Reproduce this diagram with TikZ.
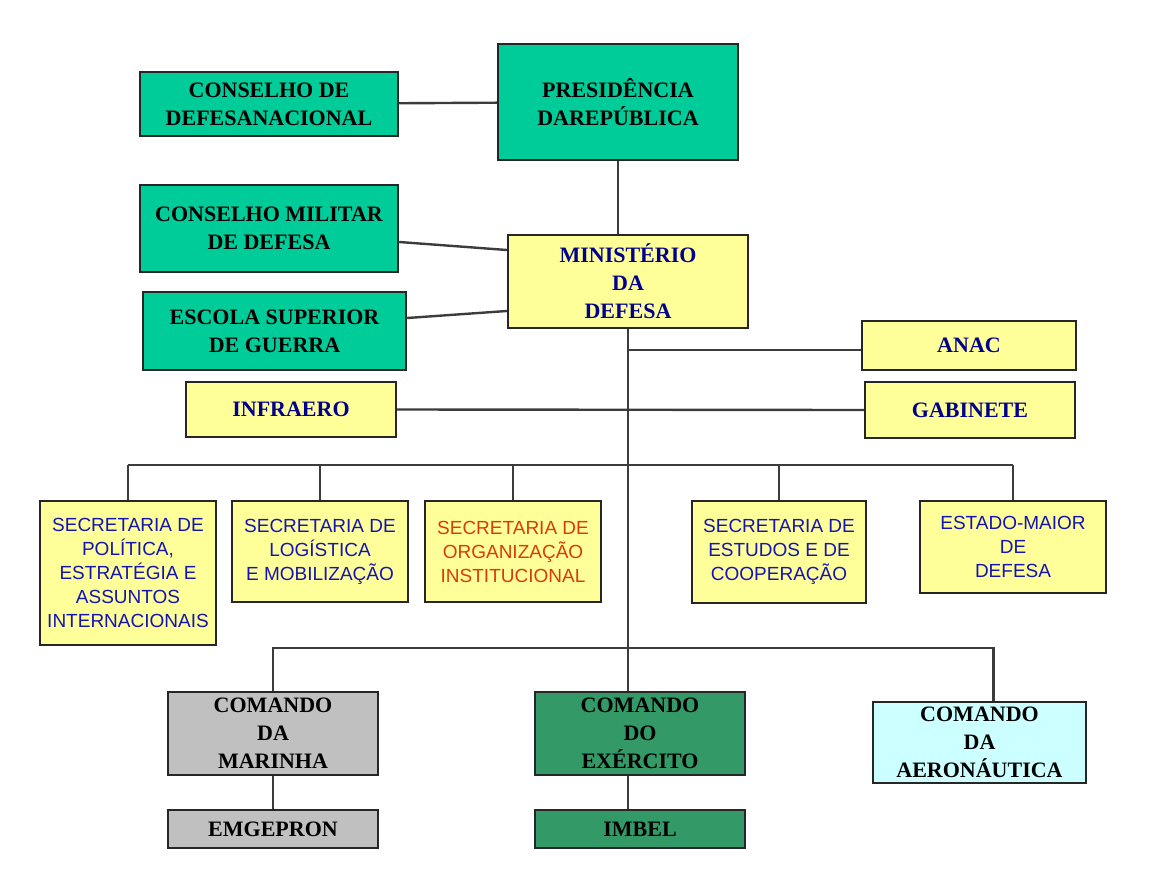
\documentclass[tikz,border=0pt]{standalone}
\usepackage{fontspec}
\setmainfont{Liberation Serif}
\setsansfont{Liberation Sans}
\usepackage{tikz}
\usetikzlibrary{positioning, calc}
\definecolor{mygreen}{RGB}{0,204,153}
\definecolor{mydkgreen}{RGB}{51,153,102}
\definecolor{myyellow}{RGB}{255,255,153}
\definecolor{mygray}{RGB}{192,192,192}
\definecolor{mycyan}{RGB}{204,255,255}
\definecolor{mynavy}{RGB}{0,0,140}
\definecolor{myblue}{RGB}{20,20,180}
\definecolor{myorange}{RGB}{215,60,10}
\definecolor{myline}{RGB}{60,60,60}
\tikzset{
  orgbox/.style={rectangle, draw=black!85, line width=1.2pt, align=center,
    inner sep=2pt, font=\fontsize{11}{14}\selectfont\bfseries},
  greenbox/.style={orgbox, fill=mygreen, text=black},
  yellowbox/.style={orgbox, fill=myyellow, text=mynavy},
  secbox/.style={orgbox, fill=myyellow, text=myblue,
    font=\fontsize{9.5}{12}\selectfont\sffamily},
  conn/.style={line width=1.2pt, color=myline}
}

\begin{document}
\begin{tikzpicture}[x=0.5pt, y=-0.5pt]
  \useasboundingbox[fill=white] (0,0) rectangle (1160,872);

  % top level
  \node[greenbox, minimum width=129pt, minimum height=32pt] (cdn) at (269,104) {CONSELHO DE\\DEFESANACIONAL};
  \node[greenbox, minimum width=120pt, minimum height=58pt] (pres) at (618,102) {PRESIDÊNCIA\\DAREPÚBLICA};
  \node[greenbox, minimum width=129pt, minimum height=43.5pt] (cmd) at (269,228.5) {CONSELHO MILITAR\\DE DEFESA};
  \node[yellowbox, minimum width=120pt, minimum height=46.5pt] (md) at (628,281.5) {MINISTÉRIO\\DA\\DEFESA};
  \node[greenbox, minimum width=131.5pt, minimum height=39pt] (esg) at (274.5,331) {ESCOLA SUPERIOR\\DE GUERRA};
  \node[yellowbox, minimum width=107pt, minimum height=24.5pt] (anac) at (969,345.5) {ANAC};
  \node[yellowbox, minimum width=105pt, minimum height=27.5pt] (infra) at (291,409.5) {INFRAERO};
  \node[yellowbox, minimum width=105pt, minimum height=28pt] (gab) at (970,410) {GABINETE};

  % secretarias
  \node[secbox, minimum width=88pt, minimum height=72pt] (speai) at (128,573) {SECRETARIA DE\\POLÍTICA,\\ESTRATÉGIA E\\ASSUNTOS\\INTERNACIONAIS};
  \node[secbox, minimum width=88pt, minimum height=50.5pt] (slm) at (320,551.5) {SECRETARIA DE\\LOGÍSTICA\\E MOBILIZAÇÃO};
  \node[secbox, text=myorange, minimum width=88pt, minimum height=50.5pt] (soi) at (513,551.5) {SECRETARIA DE\\ORGANIZAÇÃO\\INSTITUCIONAL};
  \node[secbox, minimum width=87pt, minimum height=51pt] (sec) at (779,552) {SECRETARIA DE\\ESTUDOS E DE\\COOPERAÇÃO};
  \node[secbox, minimum width=93pt, minimum height=46pt] (emd) at (1013,547) {ESTADO-MAIOR\\DE\\DEFESA};

  % comandos
  \node[orgbox, fill=mygray, minimum width=105pt, minimum height=41.5pt] (cmar) at (273,733.5) {COMANDO\\DA\\MARINHA};
  \node[orgbox, fill=mydkgreen, minimum width=105pt, minimum height=41.5pt] (cexe) at (640,733.5) {COMANDO\\DO\\EXÉRCITO};
  \node[orgbox, fill=mycyan, minimum width=106.5pt, minimum height=40.5pt] (caer) at (979.5,742.5) {COMANDO\\DA\\AERONÁUTICA};
  \node[orgbox, fill=mygray, minimum width=105pt, minimum height=19pt] (emg) at (273,829) {EMGEPRON};
  \node[orgbox, fill=mydkgreen, minimum width=105pt, minimum height=19pt] (imb) at (640,829) {IMBEL};

  \coordinate (secbus) at (628,465);
  \coordinate (cmdbus) at (628,648);

  \draw[conn] (cdn) -- (pres);
  \draw[conn] (pres.south) -- (pres.south |- md.north);
  \draw[conn] ([yshift=-6.75pt]cmd.east) -- ([yshift=15.75pt]md.west);
  \draw[conn] ([yshift=6.5pt]esg.east) -- ([yshift=-14.75pt]md.west);
  \draw[conn] (md.south) -- (md.south |- cexe.north);
  \draw[conn] ([yshift=-2.25pt]md.south |- anac.west) -- ([yshift=-2.25pt]anac.west);
  \draw[conn] (infra.east) -- (gab.west);

  \draw[conn] (speai.north |- secbus) -- (emd.north |- secbus);
  \foreach \n in {speai,slm,soi,sec,emd}
    \draw[conn] (\n.north) -- (\n.north |- secbus);

  \draw[conn] (cmar.north) -- (cmar.north |- cmdbus) -- ([xshift=7pt]caer.north |- cmdbus) -- ([xshift=7pt]caer.north);
  \draw[conn] (cmar.south) -- (emg.north);
  \draw[conn] (cexe.south -| md.south) -- (imb.north -| md.south);
\end{tikzpicture}
\end{document}
